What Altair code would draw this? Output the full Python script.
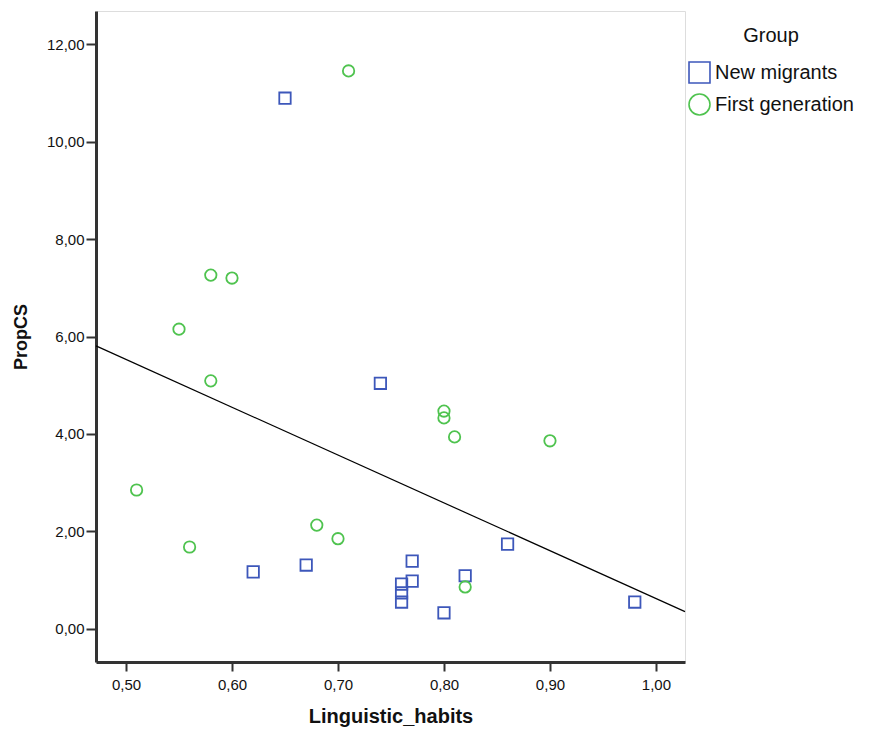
import altair as alt
import pandas as pd

# First generation (green circles)
first_x = [0.71, 0.58, 0.60, 0.55, 0.58, 0.80, 0.80, 0.81, 0.90, 0.51, 0.56, 0.68, 0.70, 0.82]
first_y = [11.45, 7.26, 7.20, 6.15, 5.09, 4.47, 4.33, 3.94, 3.86, 2.85, 1.68, 2.13, 1.85, 0.86]

# New migrants (blue squares)
new_x = [0.65, 0.74, 0.86, 0.62, 0.67, 0.77, 0.77, 0.76, 0.76, 0.76, 0.82, 0.80, 0.98]
new_y = [10.89, 5.04, 1.74, 1.17, 1.31, 1.39, 0.98, 0.92, 0.74, 0.55, 1.09, 0.33, 0.55]

groups = ["New migrants", "First generation"]
x_ticks = [0.5, 0.6, 0.7, 0.8, 0.9, 1.0]
y_ticks = [0, 2, 4, 6, 8, 10, 12]
x_domain = [0.4717, 1.0274]
y_domain = [-0.68, 12.68]

df = pd.DataFrame({
    "Linguistic_habits": new_x + first_x,
    "PropCS": new_y + first_y,
    "Group": [groups[0]] * len(new_x) + [groups[1]] * len(first_x),
})

FONT = "Liberation Sans"
comma = "replace(format(datum.value, '.2f'), '.', ',')"

xenc = alt.X("Linguistic_habits:Q",
             scale=alt.Scale(domain=x_domain, nice=False, zero=False),
             axis=alt.Axis(values=x_ticks, labelExpr=comma, title="Linguistic_habits",
                           grid=False, tickSize=9, tickWidth=2, tickColor="#333",
                           domainColor="#333", domainWidth=3,
                           labelFont=FONT, labelFontSize=15, labelColor="#111",
                           labelPadding=6, titleFont=FONT, titleFontSize=20,
                           titleFontWeight="bold", titleColor="#111", titlePadding=14))
yenc = alt.Y("PropCS:Q",
             scale=alt.Scale(domain=y_domain, nice=False, zero=False),
             axis=alt.Axis(values=y_ticks, labelExpr=comma, title="PropCS",
                           grid=False, tickSize=10, tickWidth=2, tickColor="#333",
                           domainColor="#333", domainWidth=3,
                           labelFont=FONT, labelFontSize=15, labelColor="#111",
                           labelPadding=2, titleFont=FONT, titleFontSize=18,
                           titleFontWeight="bold", titleColor="#111", titlePadding=16))

points = alt.Chart(df).mark_point(filled=False, strokeWidth=1.8, opacity=1).encode(
    x=xenc,
    y=yenc,
    color=alt.Color("Group:N", scale=alt.Scale(domain=groups, range=["#3D57BA", "#4FC34F"]),
                    legend=alt.Legend(title="Group", orient="none", legendX=592, legendY=15,
                                      titleFont=FONT, titleFontSize=20, titleFontWeight="normal",
                                      titleColor="#111", titleAnchor="middle", titlePadding=15,
                                      labelFont=FONT, labelFontSize=20, labelColor="#111",
                                      symbolSize=440, symbolStrokeWidth=1.6, rowPadding=3,
                                      labelOffset=4)),
    shape=alt.Shape("Group:N", scale=alt.Scale(domain=groups, range=["square", "circle"]),
                    legend=None),
    size=alt.value(130),
)

line = alt.Chart(df).transform_regression(
    "Linguistic_habits", "PropCS", extent=x_domain
).mark_line(color="black", strokeWidth=1.2).encode(
    x=alt.X("Linguistic_habits:Q"),
    y=alt.Y("PropCS:Q"),
)

chart = alt.layer(points, line).properties(
    width=589, height=651,
    autosize=alt.AutoSizeParams(type="none"),
    padding={"left": 96, "top": 11, "right": 197, "bottom": 68},
).configure_view(stroke="#777", strokeWidth=2).configure(background="white")

chart.save("out.html", embed_options={"renderer": "svg", "actions": False})
